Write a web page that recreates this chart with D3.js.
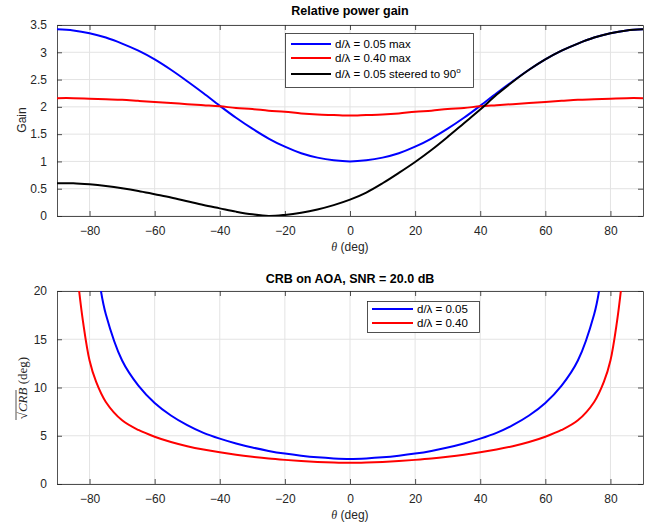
<!DOCTYPE html>
<html>
<head>
<meta charset="utf-8">
<script src="https://cdn.jsdelivr.net/npm/d3@7"></script>
<style>
  body { margin: 0; background: #fff; }
  svg { font-family: "Liberation Sans", Arial, sans-serif; }
</style>
</head>
<body>
<div id="chart"></div>
<script>
// Gain data, every 5 deg from -90 to 90
const gainAngles = [-90, -85, -80, -75, -70, -65, -60, -55, -50, -45, -40, -35, -30, -25, -20, -15, -10, -5, 0,
  5, 10, 15, 20, 25, 30, 35, 40, 45, 50, 55, 60, 65, 70, 75, 80, 85, 90];
const gainBlue = [3.42, 3.40, 3.35, 3.27, 3.16, 3.03, 2.87, 2.68, 2.47, 2.25, 2.02, 1.8, 1.6, 1.42, 1.27, 1.15, 1.07, 1.02, 1.0,
  1.02, 1.07, 1.15, 1.27, 1.42, 1.6, 1.8, 2.02, 2.25, 2.47, 2.68, 2.87, 3.03, 3.16, 3.27, 3.35, 3.40, 3.42];
const gainRed = [2.16, 2.16, 2.15, 2.14, 2.13, 2.11, 2.09, 2.07, 2.05, 2.03, 2.01, 1.98, 1.96, 1.93, 1.91, 1.88, 1.86, 1.85, 1.84,
  1.85, 1.86, 1.88, 1.91, 1.93, 1.96, 1.98, 2.01, 2.03, 2.05, 2.07, 2.09, 2.11, 2.13, 2.14, 2.15, 2.16, 2.16];
const gainBlack = [0.6, 0.6, 0.58, 0.55, 0.51, 0.46, 0.4, 0.34, 0.27, 0.2, 0.14, 0.08, 0.03, 0.0, 0.02, 0.06, 0.12, 0.2, 0.3,
  0.43, 0.6, 0.79, 0.99, 1.21, 1.45, 1.7, 1.95, 2.22, 2.46, 2.68, 2.87, 3.03, 3.16, 3.27, 3.35, 3.40, 3.42];
const gainNames = ["d/\u03bb = 0.05 max", "d/\u03bb = 0.40 max", "d/\u03bb = 0.05 steered to 90"];

// CRB data (deg)
const crbAnglesBlue = [-76.5, -75, -70, -65, -60, -55, -50, -45, -40, -35, -30, -25, -20, -15, -10, -5, 0,
  5, 10, 15, 20, 25, 30, 35, 40, 45, 50, 55, 60, 65, 70, 75, 76.5];
const crbBlue = [20, 17.6, 12.8, 10.2, 8.4, 7.1, 6.1, 5.3, 4.7, 4.2, 3.78, 3.43, 3.15, 2.93, 2.76, 2.65, 2.6,
  2.65, 2.76, 2.93, 3.15, 3.43, 3.78, 4.2, 4.7, 5.3, 6.1, 7.1, 8.4, 10.2, 12.8, 17.6, 20];
const crbAnglesRed = [-83.2, -82, -80, -78, -75, -70, -65, -60, -55, -50, -45, -40, -35, -30, -25, -20, -15, -10, -5, 0,
  5, 10, 15, 20, 25, 30, 35, 40, 45, 50, 55, 60, 65, 70, 75, 78, 80, 82, 83.2];
const crbRed = [20, 16.8, 12.8, 10.6, 8.5, 6.6, 5.6, 4.9, 4.35, 3.92, 3.57, 3.28, 3.03, 2.82, 2.64, 2.5, 2.38, 2.29, 2.23, 2.2,
  2.23, 2.29, 2.38, 2.5, 2.64, 2.82, 3.03, 3.28, 3.57, 3.92, 4.35, 4.9, 5.6, 6.6, 8.5, 10.6, 12.8, 16.8, 20];
const crbNames = ["d/\u03bb = 0.05", "d/\u03bb = 0.40"];

const xTicks = [-80, -60, -40, -20, 0, 20, 40, 60, 80];
const gainTicks = [0, 0.5, 1, 1.5, 2, 2.5, 3, 3.5];
const crbTicks = [0, 5, 10, 15, 20];

const W = 653, H = 526;
const AX = "#262626", GRID = "#e3e3e3";
const svg = d3.select("#chart").append("svg").attr("width", W).attr("height", H);

function panel(top, bottom, yDomain, yTicks, id) {
  const x = d3.scaleLinear().domain([-90, 90]).range([57, 643]);
  const y = d3.scaleLinear().domain(yDomain).range([bottom, top]);
  const g = svg.append("g");
  g.append("clipPath").attr("id", id).append("rect")
    .attr("x", 57).attr("y", top).attr("width", 586).attr("height", bottom - top);
  // grid
  g.selectAll("line.gx").data(xTicks).enter().append("line")
    .attr("x1", d => x(d)).attr("x2", d => x(d)).attr("y1", top).attr("y2", bottom)
    .attr("stroke", GRID).attr("stroke-width", 1);
  g.selectAll("line.gy").data(yTicks).enter().append("line")
    .attr("y1", d => y(d)).attr("y2", d => y(d)).attr("x1", 57).attr("x2", 643)
    .attr("stroke", GRID).attr("stroke-width", 1);
  // axes, ticks pointing inward
  const bx = g.append("g").attr("transform", `translate(0,${bottom})`)
    .call(d3.axisBottom(x).tickValues(xTicks).tickSizeInner(-5).tickSizeOuter(0).tickPadding(10));
  const tx = g.append("g").attr("transform", `translate(0,${top})`)
    .call(d3.axisTop(x).tickValues(xTicks).tickSizeInner(-5).tickSizeOuter(0).tickFormat(""));
  const ly = g.append("g").attr("transform", "translate(57,0)")
    .call(d3.axisLeft(y).tickValues(yTicks).tickSizeInner(-5).tickSizeOuter(0).tickPadding(10).tickFormat(d3.format("")));
  const ry = g.append("g").attr("transform", "translate(643,0)")
    .call(d3.axisRight(y).tickValues(yTicks).tickSizeInner(-5).tickSizeOuter(0).tickFormat(""));
  [bx, tx, ly, ry].forEach(a => {
    a.selectAll("path,line").attr("stroke", AX).attr("stroke-width", 0.8);
    a.selectAll("text").attr("fill", AX).style("font-size", "12px").style("font-family", "Liberation Sans, Arial, sans-serif");
  });
  const xl = g.append("text").attr("x", 350).attr("y", bottom + 35).attr("text-anchor", "middle")
    .attr("fill", AX).style("font-size", "12px");
  xl.append("tspan").text("\u03b8").style("font-family", "Liberation Serif, serif").style("font-style", "italic");
  xl.append("tspan").text(" (deg)");
  return { x, y, g };
}

const line = (x, y) => d3.line().x(d => x(d[0])).y(d => y(d[1])).curve(d3.curveCatmullRom.alpha(0.5));

// top panel
const p1 = panel(25, 216, [0, 3.5], gainTicks, "c1");
const gainSeries = [[gainBlue, "#0000ff"], [gainRed, "#ff0000"], [gainBlack, "#000000"]];
gainSeries.forEach(([vals, col]) => {
  p1.g.append("path").attr("clip-path", "url(#c1)")
    .datum(gainAngles.map((a, i) => [a, vals[i]]))
    .attr("d", line(p1.x, p1.y)).attr("fill", "none").attr("stroke", col).attr("stroke-width", 2);
});
svg.append("text").attr("x", 350).attr("y", 15).attr("text-anchor", "middle")
  .style("font-size", "12.5px").style("font-weight", "bold").attr("fill", "#000").text("Relative power gain");
svg.append("text").attr("transform", "translate(26,120) rotate(-90)").attr("text-anchor", "middle")
  .style("font-size", "12px").attr("fill", AX).text("Gain");

// legend top
const lg1 = svg.append("g");
lg1.append("rect").attr("x", 285.5).attr("y", 33.5).attr("width", 188).attr("height", 54)
  .attr("fill", "#fff").attr("stroke", AX).attr("stroke-width", 0.8);
const rows1 = [44, 58, 74];
gainSeries.forEach(([, col], i) => {
  lg1.append("line").attr("x1", 291).attr("x2", 331).attr("y1", rows1[i]).attr("y2", rows1[i])
    .attr("stroke", col).attr("stroke-width", 2);
  const t = lg1.append("text").attr("x", 335).attr("y", rows1[i] + 4).style("font-size", "11.5px").attr("fill", "#000")
    .text(gainNames[i]);
  if (i === 2) t.append("tspan").attr("dy", -5).style("font-size", "8px").text("o");
});

// bottom panel
const p2 = panel(291, 484, [0, 20], crbTicks, "c2");
const crbSeries = [[crbAnglesBlue, crbBlue, "#0000ff"], [crbAnglesRed, crbRed, "#ff0000"]];
crbSeries.forEach(([angs, vals, col]) => {
  p2.g.append("path").attr("clip-path", "url(#c2)")
    .datum(angs.map((a, i) => [a, vals[i]]))
    .attr("d", line(p2.x, p2.y)).attr("fill", "none").attr("stroke", col).attr("stroke-width", 2);
});
svg.append("text").attr("x", 350).attr("y", 283).attr("text-anchor", "middle")
  .style("font-size", "12.5px").style("font-weight", "bold").attr("fill", "#000").text("CRB on AOA, SNR = 20.0 dB");

// y label bottom: sqrt(CRB) (deg)
const yl = svg.append("g").attr("transform", "translate(27,388) rotate(-90)");
const ylt = yl.append("text").attr("text-anchor", "middle").attr("fill", AX)
  .style("font-family", "Liberation Serif, Times New Roman, serif").style("font-size", "13px");
ylt.append("tspan").text("\u221a");
ylt.append("tspan").text("CRB").style("font-style", "italic");
ylt.append("tspan").text(" (deg)");
yl.append("line").attr("x1", -32).attr("x2", -2).attr("y1", -11).attr("y2", -11).attr("stroke", AX).attr("stroke-width", 0.8);

// legend bottom
const lg2 = svg.append("g");
lg2.append("rect").attr("x", 367.5).attr("y", 301.5).attr("width", 112).attr("height", 31)
  .attr("fill", "#fff").attr("stroke", AX).attr("stroke-width", 0.8);
const rows2 = [309, 323];
crbSeries.forEach(([, , col], i) => {
  lg2.append("line").attr("x1", 372).attr("x2", 413).attr("y1", rows2[i]).attr("y2", rows2[i])
    .attr("stroke", col).attr("stroke-width", 2);
  lg2.append("text").attr("x", 417).attr("y", rows2[i] + 4).style("font-size", "11.5px").attr("fill", "#000")
    .text(crbNames[i]);
});
</script>
</body>
</html>
